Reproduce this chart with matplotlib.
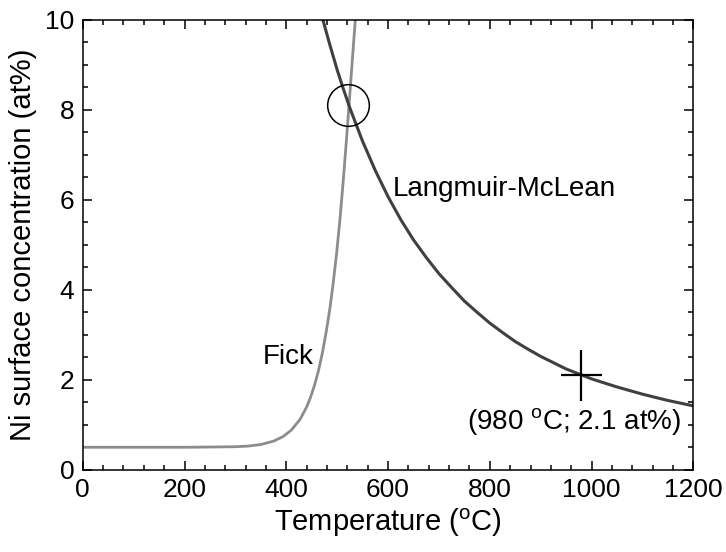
import numpy as np
import matplotlib
matplotlib.use("Agg")
import matplotlib.pyplot as plt
from matplotlib.ticker import MultipleLocator

plt.rcParams['font.family'] = ['Liberation Sans', 'DejaVu Sans']
plt.rcParams['mathtext.fontset'] = 'custom'
plt.rcParams['mathtext.rm'] = 'Liberation Sans'
plt.rcParams['mathtext.default'] = 'regular'

# Fick curve
fick_T = [0, 100, 200, 250, 300, 325, 350, 375, 394, 410, 427, 440, 447, 455,
          463, 471, 479, 486, 492, 499, 506, 512, 518, 524, 530, 536, 541]
fick_C = [0.5, 0.5, 0.5, 0.505, 0.512, 0.526, 0.561, 0.636, 0.74, 0.882, 1.12,
          1.394, 1.59, 1.86, 2.19, 2.60, 3.10, 3.61, 4.13, 4.82, 5.63, 6.43,
          7.30, 8.21, 9.14, 10.06, 10.81]

# Langmuir-McLean curve
lm_T = [465, 472, 485, 500, 512, 525, 550, 575, 600, 625, 650, 675, 700, 725,
        750, 775, 800, 825, 850, 875, 900, 925, 950, 975, 1000, 1025, 1050,
        1075, 1100, 1125, 1150, 1175, 1200]
lm_C = [10.3, 10.0, 9.47, 8.89, 8.47, 8.04, 7.30, 6.65, 6.07, 5.56, 5.11, 4.72,
        4.36, 4.05, 3.75, 3.50, 3.26, 3.05, 2.85, 2.68, 2.52, 2.38, 2.24, 2.13,
        2.02, 1.93, 1.84, 1.76, 1.68, 1.61, 1.54, 1.48, 1.42]

cross_T, cross_C = 980, 2.1
circle_T, circle_C = 522, 8.1

fig = plt.figure(figsize=(7.26, 5.52), dpi=100)
ax = fig.add_axes([0.114, 0.149, 0.841, 0.815])

ax.plot(fick_T, fick_C, color='#8c8c8c', lw=2)
ax.plot(lm_T, lm_C, color='#404040', lw=2.2)

ax.plot([circle_T], [circle_C], marker='o', ms=30, mfc='none', mec='black', mew=1.1)
ax.errorbar([cross_T], [cross_C], xerr=40, yerr=0.57, fmt='none', ecolor='black',
            elinewidth=1.6, capsize=0)

ax.text(354, 2.5, 'Fick', fontsize=20, ha='left', va='center')
ax.text(610, 6.25, 'Langmuir-McLean', fontsize=20, ha='left', va='center')
ax.text(965, 1.07, r'(980 $^{o}$C; 2.1 at%)', fontsize=20, ha='center', va='center')

ax.set_xlim(0, 1200)
ax.set_ylim(0, 10)
ax.xaxis.set_major_locator(MultipleLocator(200))
ax.xaxis.set_minor_locator(MultipleLocator(40))
ax.yaxis.set_major_locator(MultipleLocator(2))
ax.yaxis.set_minor_locator(MultipleLocator(0.5))
ax.tick_params(which='both', direction='in', top=True, right=True, width=1.1,
               labelsize=19, pad=6)
ax.tick_params(which='major', length=6.5)
ax.tick_params(which='minor', length=3.6)
for s in ax.spines.values():
    s.set_linewidth(1.1)

ax.set_xlabel(r'Temperature ($^{o}$C)', fontsize=21, labelpad=3)
ax.set_ylabel('Ni surface concentration (at%)', fontsize=21, labelpad=6)

fig.savefig('out.png', dpi=100)
